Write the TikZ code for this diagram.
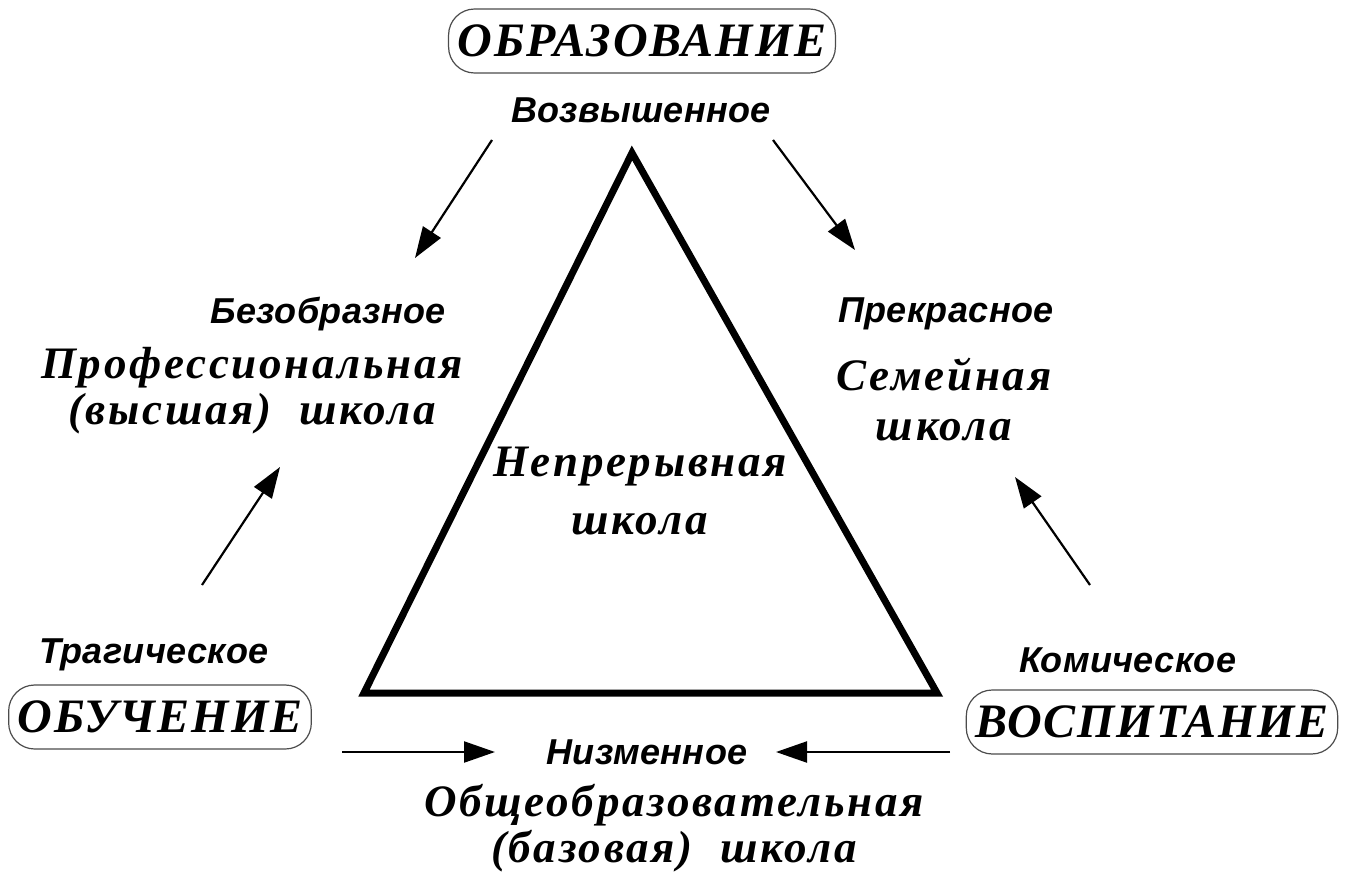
\documentclass[tikz,border=0pt]{standalone}
\usepackage{fontspec}
\setmainfont{Liberation Serif}
\setsansfont{Liberation Sans}
\usetikzlibrary{arrows.meta}

\begin{document}
\begin{tikzpicture}[x=1pt,y=-1pt]

  \useasboundingbox (0,0) rectangle (1371,880);

  % node styles
  \tikzstyle{Box}=[
  draw=black!70,
  line width=1.2pt,
  rounded corners=26pt,
  minimum height=64pt,
  inner xsep=9pt,
  font=\bfseries\itshape\fontsize{48}{50}\selectfont\addfontfeature{LetterSpace=4}]

  \tikzstyle{Big}=[font=\bfseries\itshape\fontsize{45}{46}\selectfont\addfontfeature{LetterSpace=6},align=center,inner sep=0pt]
  \tikzstyle{Small}=[font=\sffamily\bfseries\itshape\fontsize{36}{38}\selectfont\addfontfeature{LetterSpace=1},inner sep=0pt]
  \tikzstyle{Arrow}=[line width=2.2pt,-{Triangle[length=31pt,width=21pt]}]

  % triangle
  \coordinate (T) at (632,153);
  \coordinate (L) at (364,693);
  \coordinate (R) at (937,693);
  \draw[line width=7pt] (T) -- (L) -- (R) -- cycle;

  % corners
  \node[Box]   (Obraz)  at (642,41)  {ОБРАЗОВАНИЕ};
  \node[Small] (Vozv)   at (641,110) {Возвышенное};
  \node[Small] (Trag)   at (154,655) {Трагическое};
  \node[Box]   (Obuch)  at (160,717) {ОБУЧЕНИЕ};
  \node[Small] (Komich) at (1128,660) {Комическое};
  \node[Box]   (Vosp)   at (1152,722) {ВОСПИТАНИЕ};

  % schools
  \node[Small] (Bezobr) at (328,314) {Безобразное};
  \node[Big]   (Prof)   at (252,391) {Профессиональная\\(высшая)~~школа};
  \node[Small] (Prekr)  at (946,314) {Прекрасное};
  \node[Big]   (Sem)    at (944,400) {Семейная\\[4pt]школа};
  \node[Big]   (Nepr)   at (640,491) {Непрерывная\\[12pt]школа};
  \node[Small] (Nizm)   at (647,752) {Низменное};
  \node[Big]   (Obshch) at (674,828) {Общеобразовательная\\(базовая)~~школа};

  % arrows
  \coordinate (a1) at (492,140);  \coordinate (b1) at (415,258);
  \coordinate (a2) at (773,140);  \coordinate (b2) at (855,250);
  \coordinate (a3) at (202,585);  \coordinate (b3) at (280,467);
  \coordinate (a4) at (1090,585); \coordinate (b4) at (1015,477);
  \coordinate (a5) at (342,752);  \coordinate (b5) at (495,752);
  \coordinate (a6) at (950,752);  \coordinate (b6) at (776,752);

  \draw[Arrow] (a1) -- (b1);
  \draw[Arrow] (a2) -- (b2);
  \draw[Arrow] (a3) -- (b3);
  \draw[Arrow] (a4) -- (b4);
  \draw[Arrow] (a5) -- (b5);
  \draw[Arrow] (a6) -- (b6);

\end{tikzpicture}
\end{document}
